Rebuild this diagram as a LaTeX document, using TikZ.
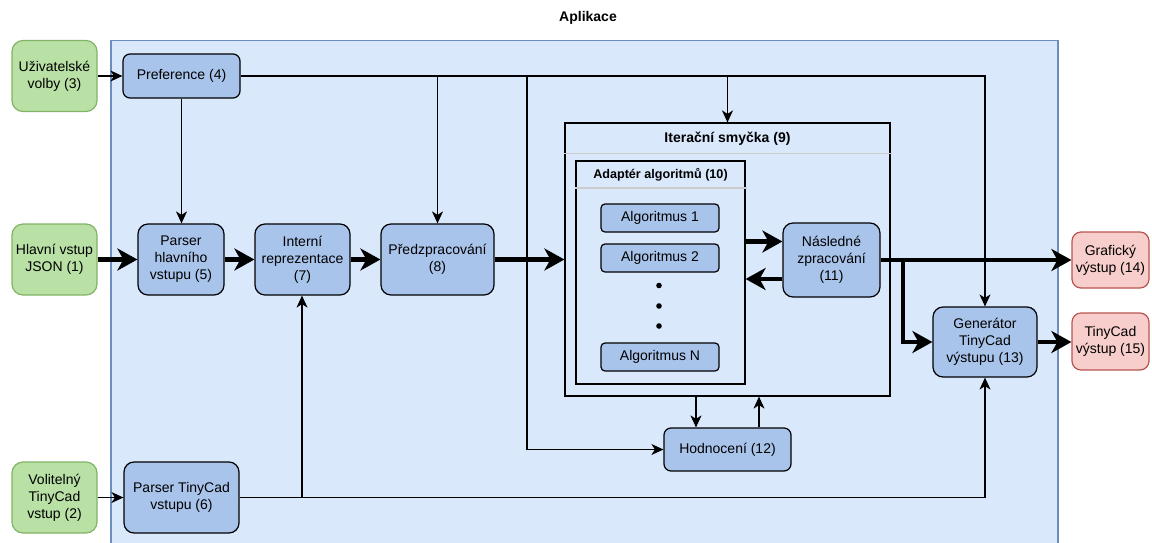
\documentclass[tikz,border=0pt]{standalone}
\usepackage{fontspec}
\setmainfont{Liberation Sans}
\usetikzlibrary{arrows.meta,calc}
\definecolor{blueF}{HTML}{A9C4EB}
\definecolor{appF}{HTML}{DAE8FC}
\definecolor{appD}{HTML}{6C8EBF}
\definecolor{greenF}{HTML}{B9E0A5}
\definecolor{greenD}{HTML}{82B366}
\definecolor{redF}{HTML}{F8CECC}
\definecolor{redD}{HTML}{B85450}
\newcommand\fsn{\fontsize{14pt}{17pt}\selectfont}
\newcommand\fsa{\fontsize{12.6pt}{15pt}\selectfont\bfseries}
\tikzset{
  box/.style={draw=black, line width=1.2pt, fill=blueF, align=center, inner sep=0pt, font=\fsn},
  inbox/.style={box, fill=greenF, draw=greenD},
  outbox/.style={box, fill=redF, draw=redD},
  rc/.style={rounded corners=#1},
  swim/.style={draw=black, line width=1.2pt, inner sep=0pt},
  sepline/.style={draw=black!20, line width=1.2pt},
  thn/.style={line width=1.2pt, -{Stealth[length=12pt,width=11pt,inset=3.5pt]}},
  thk/.style={line width=4.5pt, -{Stealth[length=20pt,width=22pt,inset=6pt]}},
}
\begin{document}
\begin{tikzpicture}[x=1pt,y=-1pt]
\useasboundingbox (0,0) rectangle (1152,542);
% application container
\fill[appF] (111,40.5) rectangle (1058,560);
\draw[appD, line width=1.2pt] (111,560) -- (111,40.5) -- (1058,40.5) -- (1058,560);
\node[font=\fsn\bfseries] (title) at (588,18) {Aplikace};

% inputs
\node[inbox, rc=11pt, minimum width=85pt, minimum height=71pt] (u3) at (54.5,76) {Uživatelské\\volby (3)};
\node[inbox, rc=11pt, minimum width=85pt, minimum height=71pt] (in1) at (54.5,259.5) {Hlavní vstup\\JSON (1)};
\node[inbox, rc=11pt, minimum width=85pt, minimum height=71pt] (v2) at (54.5,497.5) {Volitelný\\TinyCad\\vstup (2)};

% application boxes
\node[box, rc=7pt, minimum width=117pt, minimum height=44pt] (pref4) at (181.5,76) {Preference (4)};
\node[box, rc=10pt, minimum width=86pt, minimum height=71pt] (p5) at (181,259.5) {Parser\\hlavního\\vstupu (5)};
\node[box, rc=10pt, minimum width=95pt, minimum height=71pt] (ir7) at (302.5,259.5) {Interní\\reprezentace\\(7)};
\node[box, rc=10pt, minimum width=113pt, minimum height=71pt] (pz8) at (437.5,259.5) {Předzpracování\\(8)};
\node[box, rc=10pt, minimum width=115pt, minimum height=71pt] (p6) at (181.5,497.5) {Parser TinyCad\\vstupu (6)};

% iteration loop
\node[swim, minimum width=325pt, minimum height=273pt] (loop9) at (727.5,259.5) {};
\node[font=\fsn\bfseries] (loop9t) at (727.5,138.5) {Iterační smyčka (9)};
\draw[sepline] (loop9.west |- 0,153.5) -- ([xshift=1pt]loop9.east |- 0,153.5);

\node[swim, minimum width=169pt, minimum height=223pt] (ad10) at (660.5,272.5) {};
\node[font=\fsa] (ad10t) at (660.5,174.5) {Adaptér algoritmů (10)};
\draw[sepline] (ad10.west |- 0,188) -- ([xshift=1pt]ad10.east |- 0,188);

\node[box, rc=4pt, minimum width=118pt, minimum height=28pt] (a1) at (660,218) {Algoritmus 1};
\node[box, rc=4pt, minimum width=118pt, minimum height=28pt] (a2) at (660,258) {Algoritmus 2};
\node[box, rc=4pt, minimum width=118pt, minimum height=28pt] (aN) at (660,357) {Algoritmus N};
\fill (659,285.5) circle (2.8pt);
\fill (659,306) circle (2.8pt);
\fill (659,326) circle (2.8pt);

\node[box, rc=10pt, minimum width=97pt, minimum height=74pt] (nz11) at (831.5,260) {Následné\\zpracování\\(11)};
\node[box, rc=7pt, minimum width=127pt, minimum height=43pt] (h12) at (727.5,449.5) {Hodnocení (12)};
\node[box, rc=10pt, minimum width=104pt, minimum height=70pt] (g13) at (985,342) {Generátor\\TinyCad\\výstupu (13)};

% outputs
\node[outbox, rc=9pt, minimum width=77pt, minimum height=56pt] (o14) at (1110.5,260) {Grafický\\výstup (14)};
\node[outbox, rc=9pt, minimum width=77pt, minimum height=57pt] (o15) at (1110.5,341.5) {TinyCad\\výstup (15)};

% connectors: thin
\draw[thn] (u3.east) -- (pref4.west);
\draw[thn] (v2.east) -- (p6.west);
\draw[thn] (pref4.south) -- (pref4.south |- p5.north);
\draw[thn] (pref4.east) -| (g13.north);
\draw[thn] (pref4.east -| pz8.north) -- (pz8.north);
\draw[thn] (pref4.east -| loop9.north) -- (loop9.north);
\coordinate (j1) at (527,76);
\draw[thn] (j1) |- (h12.west);
\draw[thn] (loop9.south -| 696,0) -- (h12.north -| 696,0);
\draw[thn] (h12.north -| 759,0) -- (loop9.south -| 759,0);
\draw[thn] (p6.east) -| (g13.south);
\coordinate (j3) at (302,497.5);
\draw[thn] (j3) -- (j3 |- ir7.south);

% connectors: thick
\draw[thk] (in1.east) -- (p5.west);
\draw[thk] (p5.east) -- (ir7.west);
\draw[thk] (ir7.east) -- (pz8.west);
\draw[thk] (pz8.east) -- (loop9.west);
\draw[thk] (ad10.east |- 0,241.5) -- (nz11.west |- 0,241.5);
\draw[thk] (nz11.west |- 0,279) -- (ad10.east |- 0,279);
\draw[thk] (nz11.east) -- (o14.west);
\coordinate (j2) at (903,260);
\draw[thk] (j2) |- (g13.west);
\draw[thk] (g13.east) -- (g13.east -| o15.west);
\end{tikzpicture}
\end{document}
